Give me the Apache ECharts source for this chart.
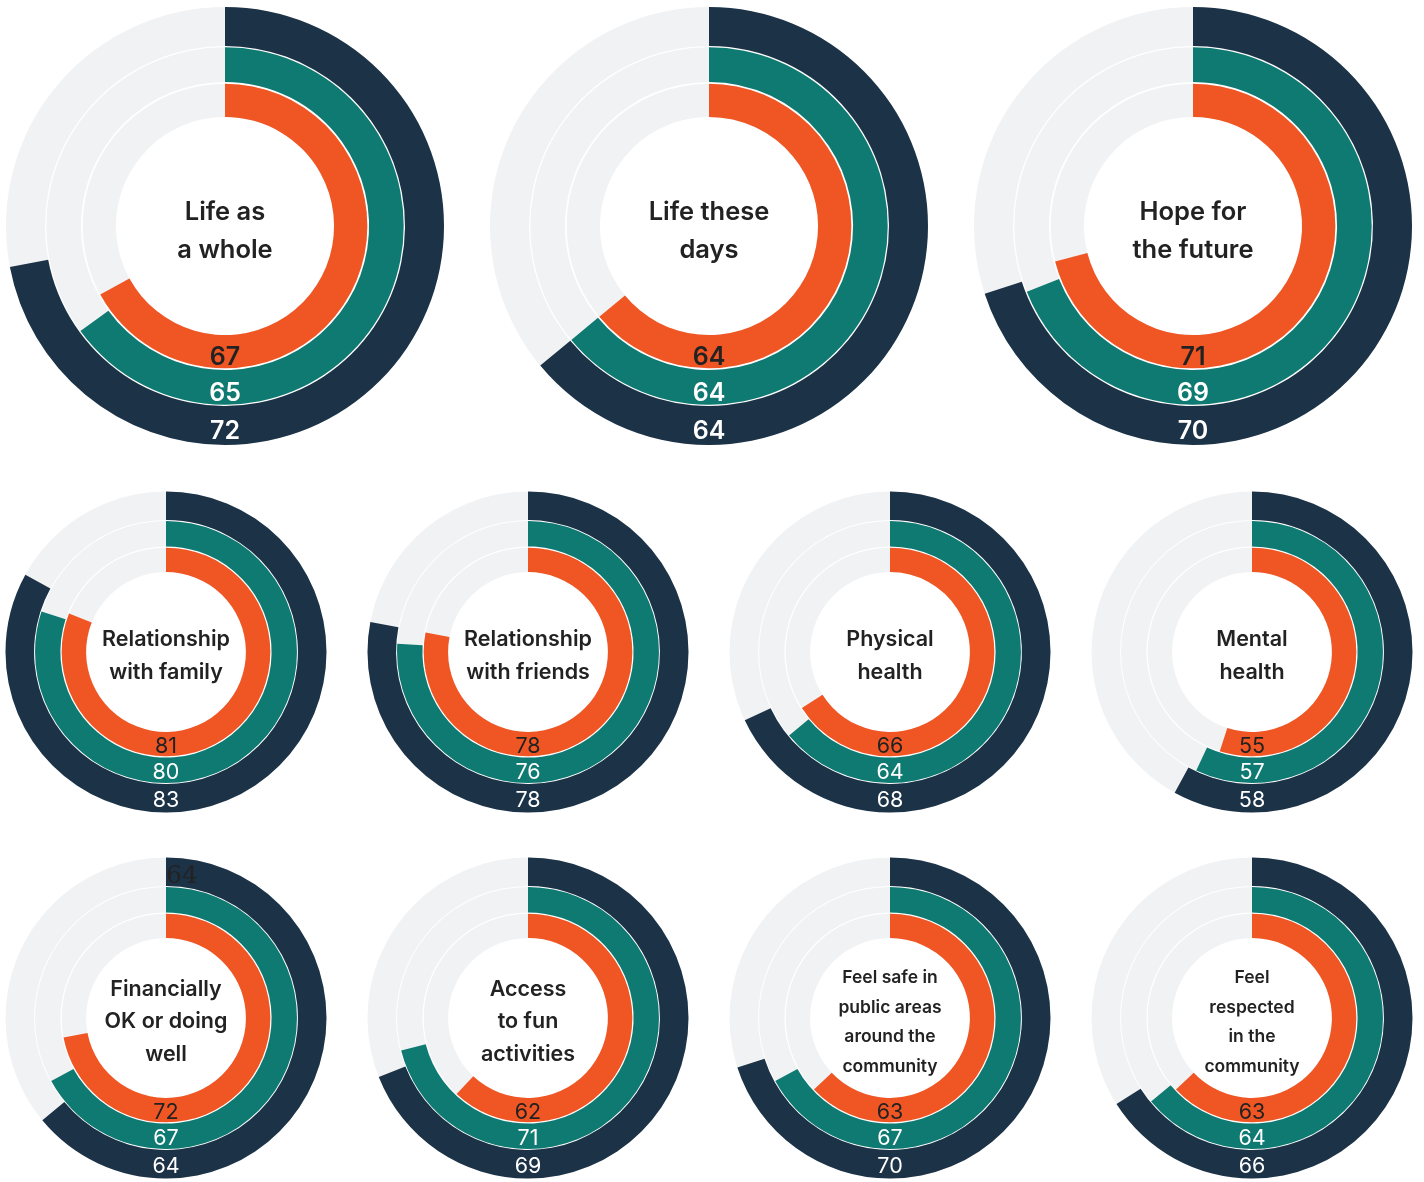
<!DOCTYPE html>
<html>
<head>
<meta charset="utf-8">
<script src="https://cdn.jsdelivr.net/npm/echarts@6/dist/echarts.min.js"></script>
<style>
  html, body { margin: 0; padding: 0; background: #ffffff; }
  #chart { width: 1424px; height: 1182px; }
</style>
</head>
<body>
<div id="chart"></div>
<script>
// Wellbeing topics, one radial panel each
const categories = [
  'Life as\na whole', 'Life these\ndays', 'Hope for\nthe future',
  'Relationship\nwith family', 'Relationship\nwith friends', 'Physical\nhealth', 'Mental\nhealth',
  'Financially\nOK or doing\nwell', 'Access\nto fun\nactivities',
  'Feel safe in\npublic areas\naround the\ncommunity', 'Feel\nrespected\nin the\ncommunity'
];
// Scores (0-100) per ring, inner to outer
const innerValues  = [67, 64, 71, 81, 78, 66, 55, 72, 62, 63, 63];
const middleValues = [65, 64, 69, 80, 76, 64, 57, 67, 71, 67, 64];
const outerValues  = [72, 64, 70, 83, 78, 68, 58, 64, 69, 70, 66];

// Panel placement: centre and outer radius in px, title font settings
const panels = [
  { x: 225,  y: 226,  r: 219,   big: true },
  { x: 709,  y: 226,  r: 219,   big: true },
  { x: 1193, y: 226,  r: 219,   big: true },
  { x: 166,  y: 652,  r: 160.5 },
  { x: 528,  y: 652,  r: 160.5 },
  { x: 890,  y: 652,  r: 160.5 },
  { x: 1252, y: 652,  r: 160.5 },
  { x: 166,  y: 1018, r: 160.5 },
  { x: 528,  y: 1018, r: 160.5 },
  { x: 890,  y: 1018, r: 160.5, small: true },
  { x: 1252, y: 1018, r: 160.5, small: true }
];

const FONT = 'Inter, "Open Sans", sans-serif';
const TRACK = '#f1f2f4';

// Ring styles: radial extent as fraction of outer radius, fill and label colour
const rings = [
  { name: 'inner',  values: innerValues,  from: 0.498, to: 0.650, color: '#f05623', text: '#222222' },
  { name: 'middle', values: middleValues, from: 0.658, to: 0.816, color: '#0f7a72', text: '#ffffff' },
  { name: 'outer',  values: outerValues,  from: 0.822, to: 1.000, color: '#1c3247', text: '#ffffff' }
];

// A second copy of one outer value sits at the ring's starting point
const startLabelPanel = 7;

const polar = [], angleAxis = [], radiusAxis = [], series = [], title = [];

panels.forEach((p, i) => {
  rings.forEach((ring, j) => {
    const k = polar.length;
    polar.push({ center: [p.x, p.y], radius: [p.r * ring.from, p.r * ring.to] });
    angleAxis.push({ polarIndex: k, type: 'value', min: 0, max: 100, startAngle: 90, clockwise: true, show: false });
    radiusAxis.push({ polarIndex: k, type: 'category', data: [ring.name], show: false });
    const v = ring.values[i];
    series.push({
      type: 'bar',
      name: ring.name,
      coordinateSystem: 'polar',
      polarIndex: k,
      barWidth: '100%',
      data: [v],
      itemStyle: { color: ring.color },
      showBackground: true,
      backgroundStyle: { color: TRACK },
      silent: true,
      animation: false
    });
    // value label at the bottom of the ring
    series.push({
      type: 'scatter',
      coordinateSystem: 'polar',
      polarIndex: k,
      symbolSize: 0,
      data: [[0, 50, v]],
      silent: true,
      animation: false,
      z: 5,
      itemStyle: { opacity: 1 },
      label: {
        show: true,
        position: 'inside',
        offset: [0, p.big ? 6 : 2],
        formatter: (d) => String(d.value[2]),
        color: ring.text,
        opacity: 1,
        fontFamily: FONT,
        fontSize: p.big ? 25 : 21.5,
        fontWeight: p.big ? 600 : 400
      }
    });
    if (i === startLabelPanel && ring.name === 'outer') {
      series.push({
        type: 'scatter',
        coordinateSystem: 'polar',
        polarIndex: k,
        symbolSize: 0,
        data: [[0, 0, v]],
        silent: true,
        animation: false,
        z: 6,
        itemStyle: { opacity: 1 },
        label: {
          show: true,
          position: 'inside',
          align: 'left',
          offset: [0, 5],
          formatter: (d) => String(d.value[2]),
          color: '#222222',
          opacity: 1,
          fontFamily: '"DejaVu Serif", "Liberation Serif", serif',
          fontSize: 25
        }
      });
    }
  });
  const fs = p.big ? 25.5 : (p.small ? 17.5 : 21.5);
  const lh = p.big ? 38 : (p.small ? 29.5 : 32.5);
  title.push({
    text: categories[i],
    left: p.x,
    top: p.y + (p.big ? 5 : 4),
    textAlign: 'center',
    textVerticalAlign: 'middle',
    padding: 0,
    textStyle: {
      fontFamily: FONT,
      fontSize: fs,
      lineHeight: lh,
      fontWeight: 600,
      color: '#222222'
    }
  });
});

const chart = echarts.init(document.getElementById('chart'), null, { renderer: 'canvas' });
chart.setOption({
  animation: false,
  backgroundColor: '#ffffff',
  title,
  polar,
  angleAxis,
  radiusAxis,
  series
});
</script>
</body>
</html>
